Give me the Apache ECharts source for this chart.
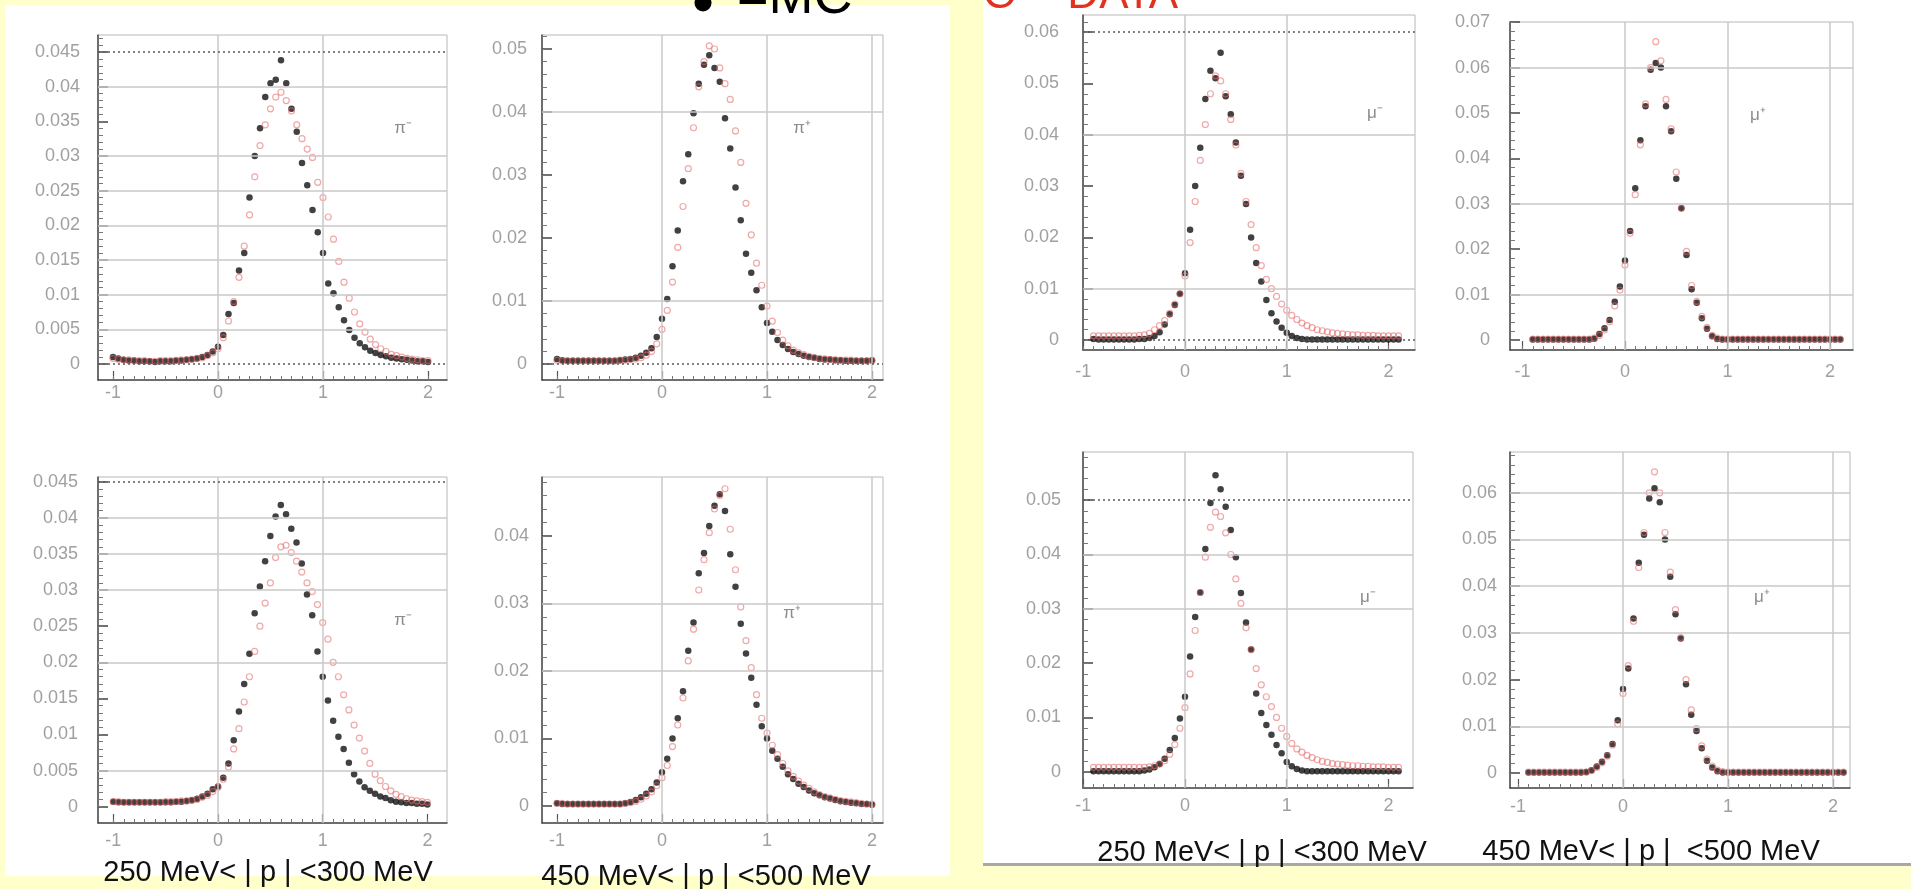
<!DOCTYPE html>
<html><head><meta charset="utf-8">
<script src="https://cdn.jsdelivr.net/npm/echarts@6/dist/echarts.min.js"></script>
<style>html,body{margin:0;padding:0;background:#ffffcc;}#c{width:1911px;height:889px;}</style>
</head><body><div id="c"></div>
<script>
// ---------- bin centres ----------
const xPi = [-1,-0.95,-0.9,-0.85,-0.8,-0.75,-0.7,-0.65,-0.6,-0.55,-0.5,-0.45,-0.4,-0.35,-0.3,-0.25,-0.2,-0.15,-0.1,-0.05,0,0.05,0.1,0.15,0.2,0.25,0.3,0.35,0.4,0.45,0.5,0.55,0.6,0.65,0.7,0.75,0.8,0.85,0.9,0.95,1,1.05,1.1,1.15,1.2,1.25,1.3,1.35,1.4,1.45,1.5,1.55,1.6,1.65,1.7,1.75,1.8,1.85,1.9,1.95,2];
const xMu = [-0.9,-0.85,-0.8,-0.75,-0.7,-0.65,-0.6,-0.55,-0.5,-0.45,-0.4,-0.35,-0.3,-0.25,-0.2,-0.15,-0.1,-0.05,0,0.05,0.1,0.15,0.2,0.25,0.3,0.35,0.4,0.45,0.5,0.55,0.6,0.65,0.7,0.75,0.8,0.85,0.9,0.95,1,1.05,1.1,1.15,1.2,1.25,1.3,1.35,1.4,1.45,1.5,1.55,1.6,1.65,1.7,1.75,1.8,1.85,1.9,1.95,2,2.05,2.1];

// ---------- tick labels ----------
const xTicks = [-1, 0, 1, 2];
const ticks045 = [0, 0.005, 0.01, 0.015, 0.02, 0.025, 0.03, 0.035, 0.04, 0.045];
const ticks04 = [0, 0.01, 0.02, 0.03, 0.04];
const ticks05 = [0, 0.01, 0.02, 0.03, 0.04, 0.05];
const ticks06 = [0, 0.01, 0.02, 0.03, 0.04, 0.05, 0.06];
const ticks07 = [0, 0.01, 0.02, 0.03, 0.04, 0.05, 0.06, 0.07];

// ---------- series values (MC = filled black, DATA = open red) ----------
// pi, 250<|p|<300, top
const mcA = [0.0010,0.0008,0.0006,0.0005,0.0005,0.0004,0.0004,0.0004,0.0003,0.0004,
0.0004,0.0004,0.0005,0.0005,0.0006,0.0007,0.0008,0.0010,0.0013,0.0018,
0.0025,0.0042,0.0072,0.0088,0.0135,0.0160,0.0240,0.0300,0.0340,0.0385,
0.0405,0.0410,0.0438,0.0405,0.0368,0.0335,0.0290,0.0258,0.0222,0.0190,
0.0160,0.0116,0.0102,0.0082,0.0063,0.0049,0.0038,0.0030,0.0024,0.0019,
0.0016,0.0013,0.0011,0.0009,0.0008,0.0007,0.0006,0.0005,0.0004,0.0004,0.0003];
const daA = [0.0008,0.0007,0.0006,0.0006,0.0005,0.0005,0.0005,0.0004,0.0004,0.0005,
0.0005,0.0005,0.0005,0.0006,0.0006,0.0007,0.0008,0.0009,0.0012,0.0016,
0.0022,0.0038,0.0062,0.0090,0.0125,0.0170,0.0215,0.0270,0.0315,0.0345,
0.0368,0.0385,0.0392,0.0380,0.0365,0.0345,0.0325,0.0310,0.0298,0.0262,
0.0240,0.0212,0.0180,0.0148,0.0118,0.0095,0.0075,0.0058,0.0046,0.0036,
0.0028,0.0022,0.0018,0.0014,0.0012,0.0010,0.0008,0.0007,0.0006,0.0005,0.0005];
// pi, 450<|p|<500, top
const mcB = [0.0008,0.0006,0.0005,0.0005,0.0005,0.0005,0.0005,0.0005,0.0005,0.0005,
0.0005,0.0005,0.0006,0.0007,0.0008,0.0010,0.0013,0.0018,0.0025,0.0043,
0.0072,0.0103,0.0155,0.0212,0.0290,0.0333,0.0398,0.0445,0.0475,0.0490,
0.0470,0.0448,0.0390,0.0342,0.0280,0.0228,0.0175,0.0145,0.0117,0.0090,
0.0065,0.0051,0.0038,0.0030,0.0024,0.0019,0.0016,0.0013,0.0011,0.0010,
0.0008,0.0007,0.0007,0.0006,0.0006,0.0005,0.0005,0.0005,0.0005,0.0005,0.0006];
const daB = [0.0006,0.0005,0.0005,0.0005,0.0005,0.0005,0.0005,0.0005,0.0005,0.0005,
0.0005,0.0005,0.0006,0.0006,0.0007,0.0008,0.0010,0.0014,0.0020,0.0032,
0.0055,0.0085,0.0130,0.0185,0.0250,0.0310,0.0375,0.0440,0.0480,0.0505,
0.0500,0.0470,0.0445,0.0420,0.0370,0.0320,0.0255,0.0205,0.0160,0.0125,
0.0092,0.0068,0.0050,0.0038,0.0029,0.0022,0.0018,0.0015,0.0012,0.0010,
0.0009,0.0008,0.0007,0.0007,0.0006,0.0006,0.0006,0.0005,0.0005,0.0005,0.0005];
// mu, 250<|p|<300, top
const mcC = [0.0002,0.0001,0.0001,0.0001,0.0001,0.0001,0.0001,0.0001,0.0001,0.0002,
0.0002,0.0004,0.0008,0.0015,0.0030,0.0050,0.0068,0.0090,0.0130,0.0215,
0.0300,0.0375,0.0470,0.0525,0.0510,0.0560,0.0475,0.0440,0.0385,0.0320,
0.0265,0.0200,0.0150,0.0114,0.0078,0.0052,0.0036,0.0024,0.0014,0.0008,
0.0004,0.0002,0.0001,0.0001,0.0001,0.0001,0.0001,0.0001,0.0001,0.0001,
0.0001,0.0001,0.0001,0.0001,0.0001,0.0001,0.0001,0.0001,0.0001,0.0001,0.0001];
const daC = [0.0008,0.0008,0.0008,0.0008,0.0008,0.0008,0.0008,0.0008,0.0008,0.0009,
0.0010,0.0013,0.0020,0.0028,0.0038,0.0052,0.0070,0.0090,0.0125,0.0190,
0.0270,0.0350,0.0420,0.0480,0.0515,0.0505,0.0480,0.0430,0.0380,0.0325,
0.0270,0.0225,0.0180,0.0145,0.0118,0.0100,0.0085,0.0070,0.0058,0.0048,
0.0040,0.0033,0.0028,0.0024,0.0020,0.0018,0.0016,0.0014,0.0013,0.0012,
0.0011,0.0010,0.0010,0.0009,0.0009,0.0009,0.0008,0.0008,0.0008,0.0008,0.0008];
// mu, 450<|p|<500, top
const mcD = [0.0001,0.0001,0.0001,0.0001,0.0001,0.0001,0.0001,0.0001,0.0001,0.0001,
0.0001,0.0001,0.0003,0.0013,0.0026,0.0044,0.0084,0.0118,0.0175,0.0240,
0.0334,0.0440,0.0515,0.0595,0.0610,0.0600,0.0515,0.0460,0.0355,0.0290,
0.0187,0.0112,0.0082,0.0048,0.0025,0.0008,0.0002,0.0001,0.0001,0.0001,
0.0001,0.0001,0.0001,0.0001,0.0001,0.0001,0.0001,0.0001,0.0001,0.0001,
0.0001,0.0001,0.0001,0.0001,0.0001,0.0001,0.0001,0.0001,0.0001,0.0001,0.0001];
const daD = [0.0002,0.0002,0.0002,0.0002,0.0002,0.0002,0.0002,0.0002,0.0002,0.0002,
0.0002,0.0002,0.0004,0.0010,0.0022,0.0040,0.0075,0.0110,0.0165,0.0235,
0.0320,0.0430,0.0520,0.0600,0.0657,0.0615,0.0530,0.0465,0.0370,0.0290,
0.0195,0.0120,0.0085,0.0052,0.0028,0.0010,0.0004,0.0002,0.0002,0.0002,
0.0002,0.0002,0.0002,0.0002,0.0002,0.0002,0.0002,0.0002,0.0002,0.0002,
0.0002,0.0002,0.0002,0.0002,0.0002,0.0002,0.0002,0.0002,0.0002,0.0002,0.0002];
// pi, 250<|p|<300, bottom
const mcE = [0.0007,0.0006,0.0006,0.0006,0.0006,0.0006,0.0006,0.0006,0.0006,0.0006,
0.0006,0.0006,0.0007,0.0007,0.0008,0.0009,0.0011,0.0014,0.0018,0.0024,
0.0028,0.0040,0.0060,0.0092,0.0132,0.0170,0.0212,0.0268,0.0305,0.0340,
0.0375,0.0402,0.0418,0.0405,0.0385,0.0366,0.0337,0.0294,0.0265,0.0215,
0.0180,0.0147,0.0119,0.0097,0.0080,0.0061,0.0045,0.0035,0.0027,0.0022,
0.0018,0.0014,0.0012,0.0009,0.0007,0.0006,0.0005,0.0005,0.0004,0.0004,0.0003];
const daE = [0.0007,0.0007,0.0006,0.0006,0.0006,0.0006,0.0006,0.0006,0.0006,0.0006,
0.0007,0.0007,0.0007,0.0008,0.0008,0.0009,0.0010,0.0013,0.0016,0.0021,
0.0027,0.0038,0.0055,0.0080,0.0108,0.0145,0.0180,0.0215,0.0250,0.0282,
0.0310,0.0345,0.0360,0.0362,0.0352,0.0340,0.0325,0.0310,0.0298,0.0280,
0.0255,0.0232,0.0200,0.0180,0.0155,0.0134,0.0113,0.0095,0.0077,0.0060,
0.0045,0.0036,0.0028,0.0022,0.0017,0.0014,0.0011,0.0009,0.0008,0.0007,0.0006];
// pi, 450<|p|<500, bottom
const mcF = [0.0004,0.0003,0.0003,0.0003,0.0003,0.0003,0.0003,0.0003,0.0003,0.0003,
0.0003,0.0003,0.0003,0.0004,0.0006,0.0009,0.0013,0.0018,0.0025,0.0035,
0.0050,0.0070,0.0100,0.0130,0.0170,0.0230,0.0272,0.0345,0.0375,0.0415,
0.0445,0.0462,0.0437,0.0373,0.0325,0.0270,0.0226,0.0190,0.0150,0.0118,
0.0100,0.0082,0.0070,0.0058,0.0047,0.0040,0.0033,0.0028,0.0023,0.0019,
0.0016,0.0013,0.0011,0.0009,0.0007,0.0006,0.0005,0.0004,0.0003,0.0003,0.0002];
const daF = [0.0004,0.0004,0.0003,0.0003,0.0003,0.0003,0.0003,0.0003,0.0003,0.0003,
0.0003,0.0003,0.0003,0.0004,0.0005,0.0007,0.0010,0.0015,0.0021,0.0030,
0.0042,0.0060,0.0088,0.0120,0.0160,0.0215,0.0262,0.0320,0.0365,0.0405,
0.0440,0.0460,0.0470,0.0410,0.0350,0.0295,0.0245,0.0205,0.0165,0.0130,
0.0108,0.0090,0.0076,0.0063,0.0052,0.0044,0.0037,0.0031,0.0026,0.0021,
0.0017,0.0014,0.0012,0.0010,0.0008,0.0007,0.0006,0.0005,0.0004,0.0003,0.0003];
// mu, 250<|p|<300, bottom
const mcG = [0.0001,0.0001,0.0001,0.0001,0.0001,0.0001,0.0001,0.0001,0.0001,0.0001,
0.0002,0.0004,0.0008,0.0014,0.0024,0.0040,0.0062,0.0098,0.0138,0.0212,
0.0285,0.0330,0.0410,0.0495,0.0546,0.0520,0.0488,0.0445,0.0395,0.0329,
0.0275,0.0225,0.0144,0.0108,0.0086,0.0068,0.0049,0.0034,0.0018,0.0010,
0.0005,0.0002,0.0001,0.0001,0.0001,0.0001,0.0001,0.0001,0.0001,0.0001,
0.0001,0.0001,0.0001,0.0001,0.0001,0.0001,0.0001,0.0001,0.0001,0.0001,0.0001];
const daG = [0.0008,0.0008,0.0008,0.0008,0.0008,0.0008,0.0008,0.0008,0.0008,0.0008,
0.0008,0.0009,0.0011,0.0014,0.0020,0.0032,0.0050,0.0080,0.0118,0.0180,
0.0260,0.0330,0.0395,0.0450,0.0478,0.0470,0.0440,0.0400,0.0355,0.0310,
0.0265,0.0225,0.0190,0.0160,0.0138,0.0120,0.0100,0.0080,0.0065,0.0052,
0.0042,0.0036,0.0030,0.0026,0.0022,0.0019,0.0017,0.0015,0.0014,0.0013,
0.0012,0.0011,0.0011,0.0010,0.0010,0.0009,0.0009,0.0009,0.0008,0.0008,0.0008];
// mu, 450<|p|<500, bottom
const mcH = [0.0001,0.0001,0.0001,0.0001,0.0001,0.0001,0.0001,0.0001,0.0001,0.0001,
0.0001,0.0002,0.0006,0.0014,0.0024,0.0038,0.0062,0.0113,0.0180,0.0224,
0.0331,0.0450,0.0510,0.0588,0.0610,0.0580,0.0500,0.0420,0.0340,0.0288,
0.0190,0.0125,0.0090,0.0053,0.0026,0.0012,0.0004,0.0001,0.0001,0.0001,
0.0001,0.0001,0.0001,0.0001,0.0001,0.0001,0.0001,0.0001,0.0001,0.0001,
0.0001,0.0001,0.0001,0.0001,0.0001,0.0001,0.0001,0.0001,0.0001,0.0001,0.0001];
const daH = [0.0002,0.0002,0.0002,0.0002,0.0002,0.0002,0.0002,0.0002,0.0002,0.0002,
0.0002,0.0002,0.0005,0.0012,0.0022,0.0036,0.0060,0.0105,0.0170,0.0230,
0.0325,0.0440,0.0515,0.0600,0.0645,0.0600,0.0515,0.0430,0.0350,0.0290,
0.0200,0.0135,0.0095,0.0058,0.0030,0.0015,0.0006,0.0003,0.0002,0.0002,
0.0002,0.0002,0.0002,0.0002,0.0002,0.0002,0.0002,0.0002,0.0002,0.0002,
0.0002,0.0002,0.0002,0.0002,0.0002,0.0002,0.0002,0.0002,0.0002,0.0002,0.0002];

// ---------- panel layout (pixels) ----------
// g: frame [left, top, right, bottom]; x0/xu: pixel of x=0 and px per unit; y0/yu: pixel of y=0 and px per unit
const panels = [
 {x:xPi, mc:mcA, da:daA, yt:ticks045, step:0.005, name:'π⁻', lab:[403,128], g:[98,35,447,380], x0:218, xu:105, y0:364, yu:6933, ylm:18, xlm:4, gy:[0.04,0.03,0.025,0.02,0.015,0.01,0.005], dy:[0.045,0], gx:[0,1]},
 {x:xPi, mc:mcB, da:daB, yt:ticks05, step:0.01, name:'π⁺', lab:[802,128], g:[542,35,883,380], x0:662, xu:105, y0:364, yu:6300, ylm:15, xlm:4, gy:[0.04,0.01], dy:[0], gx:[0,1,2]},
 {x:xMu, mc:mcC, da:daC, yt:ticks06, step:0.01, name:'μ⁻', lab:[1375,113], g:[1083,15,1415,350], x0:1185, xu:101.7, y0:340, yu:5130, ylm:24, xlm:13, gy:[0.04,0.01], dy:[0.06,0], gx:[0,1]},
 {x:xMu, mc:mcD, da:daD, yt:ticks07, step:0.01, name:'μ⁺', lab:[1758,115], g:[1510,22,1853,350], x0:1625, xu:102.5, y0:340, yu:4540, ylm:20, xlm:13, gy:[0.06,0.03,0.01], dy:[], gx:[0,1,2]},
 {x:xPi, mc:mcE, da:daE, yt:ticks045, step:0.005, name:'π⁻', lab:[403,620], g:[98,477,447,823], x0:218, xu:104.7, y0:806.7, yu:7220, ylm:20, xlm:9, gy:[0.04,0.035,0.03,0.02,0.005], dy:[0.045], gx:[0,1]},
 {x:xPi, mc:mcF, da:daF, yt:ticks04, step:0.01, name:'π⁺', lab:[792,613], g:[542,477,883,823], x0:662, xu:105, y0:806, yu:6750, ylm:13, xlm:9, gy:[0.03,0.02], dy:[], gx:[0,1,2]},
 {x:xMu, mc:mcG, da:daG, yt:ticks05, step:0.01, name:'μ⁻', lab:[1368,597], g:[1083,452,1413,788], x0:1185, xu:101.7, y0:771.7, yu:5430, ylm:22, xlm:9, gy:[0.04,0.03], dy:[0.05], gx:[0,1]},
 {x:xMu, mc:mcH, da:daH, yt:ticks06, step:0.01, name:'μ⁺', lab:[1762,597], g:[1510,452,1850,788], x0:1623, xu:105, y0:773, yu:4670, ylm:13, xlm:10, gy:[0.06,0.05,0.04,0.03,0.01], dy:[], gx:[0,1,2]}
];

const labelFont = 'Liberation Sans';
const grids = [], xAxes = [], yAxes = [], series = [];
panels.forEach((p, k) => {
  const xmin = (p.g[0] - p.x0) / p.xu, xmax = (p.g[2] - p.x0) / p.xu;
  const ymin = -(p.g[3] - p.y0) / p.yu, ymax = (p.y0 - p.g[1]) / p.yu;
  grids.push({left:p.g[0], top:p.g[1], width:p.g[2]-p.g[0], height:p.g[3]-p.g[1], show:true, borderColor:'#b8b8b8', borderWidth:1});
  const minorX = []; for (let v = -1; v <= 2.0001; v += 0.1) minorX.push(+v.toFixed(2));
  const minorY = []; for (let v = 0; v <= ymax; v += p.step/5) minorY.push(+v.toFixed(5));
  xAxes.push({type:'value', gridIndex:k, min:xmin, max:xmax, position:'bottom',
    axisLine:{show:true, onZero:false, lineStyle:{color:'#4a4a4a', width:1.5}},
    axisTick:{show:true, inside:true, length:9, customValues:xTicks, lineStyle:{color:'#555', width:1.2}},
    axisLabel:{customValues:xTicks, margin:p.xlm, color:'#a0a0a0', fontSize:18, fontFamily:labelFont, formatter:v=>String(v)},
    splitLine:{show:false}});
  xAxes.push({type:'value', gridIndex:k, min:xmin, max:xmax, position:'bottom',
    axisLine:{show:false, onZero:false}, axisTick:{show:true, inside:true, length:4, customValues:minorX, lineStyle:{color:'#777'}},
    axisLabel:{show:false}, splitLine:{show:false}});
  yAxes.push({type:'value', gridIndex:k, min:ymin, max:ymax, position:'left',
    axisLine:{show:true, onZero:false, lineStyle:{color:'#4a4a4a', width:1.5}},
    axisTick:{show:true, inside:true, length:10, customValues:p.yt, lineStyle:{color:'#444', width:1.5}},
    axisLabel:{customValues:p.yt, margin:p.ylm, color:'#a0a0a0', fontSize:18, fontFamily:labelFont, formatter:v=>String(Math.round(v*10000)/10000)},
    splitLine:{show:false}});
  yAxes.push({type:'value', gridIndex:k, min:ymin, max:ymax, position:'left',
    axisLine:{show:false, onZero:false}, axisTick:{show:true, inside:true, length:5, customValues:minorY, lineStyle:{color:'#777'}},
    axisLabel:{show:false}, splitLine:{show:false}});
  const ml = [];
  p.gy.forEach(v => ml.push({yAxis:v, lineStyle:{color:'#c9c9c9', width:1.5, type:'solid'}}));
  p.gx.forEach(v => ml.push({xAxis:v, lineStyle:{color:'#c9c9c9', width:1.5, type:'solid'}}));
  p.dy.forEach(v => ml.push({yAxis:v, lineStyle:{color:'#5a5a5a', width:1.5, type:[2,3]}}));
  series.push({type:'line', xAxisIndex:2*k, yAxisIndex:2*k, data:[], z:1, silent:true,
    markLine:{silent:true, precision:6, symbol:['none','none'], label:{show:false}, animation:false, data:ml}});
  series.push({type:'scatter', name:'MC', xAxisIndex:2*k, yAxisIndex:2*k, z:3, clip:false, symbol:'circle', symbolSize:6.5,
    itemStyle:{color:'#111'}, data:p.x.map((xv,i)=>[xv, p.mc[i]])});
  series.push({type:'scatter', name:'DATA', xAxisIndex:2*k, yAxisIndex:2*k, z:4, clip:false, symbol:'circle', symbolSize:6,
    itemStyle:{color:'rgba(255,255,255,0)', borderColor:'rgba(228,100,100,0.7)', borderWidth:1.2}, data:p.x.map((xv,i)=>[xv, p.da[i]])});
});

const graphic = [
  {type:'rect', z:-10, shape:{x:5, y:5, width:945, height:871}, style:{fill:'#ffffff'}},
  {type:'rect', z:-10, shape:{x:983, y:0, width:928, height:863}, style:{fill:'#ffffff'}},
  {type:'rect', z:-9, shape:{x:983, y:863, width:928, height:3}, style:{fill:'#a8a8a8'}},
  {type:'circle', z:10, shape:{cx:703, cy:3, r:8.5}, style:{fill:'#000'}},
  {type:'text', z:10, style:{text:'=MC', x:737, y:-2, font:'54px Liberation Sans', fill:'#000', verticalAlign:'middle'}},
  {type:'text', z:10, style:{text:'O = DATA', x:983, y:-4, font:'44px Liberation Sans', fill:'#e2321e', verticalAlign:'middle'}},
  {type:'text', z:10, style:{text:'250 MeV< | p | <300 MeV', x:268, y:873, font:'29px Liberation Sans', fill:'#111', align:'center', verticalAlign:'middle'}},
  {type:'text', z:10, style:{text:'450 MeV< | p | <500 MeV', x:706, y:877, font:'29px Liberation Sans', fill:'#111', align:'center', verticalAlign:'middle'}},
  {type:'text', z:10, style:{text:'250 MeV< | p | <300 MeV', x:1262, y:853, font:'29px Liberation Sans', fill:'#111', align:'center', verticalAlign:'middle'}},
  {type:'text', z:10, style:{text:'450 MeV< | p |  <500 MeV', x:1651, y:852, font:'29px Liberation Sans', fill:'#111', align:'center', verticalAlign:'middle'}}
];
panels.forEach(p => graphic.push({type:'text', z:10, style:{text:p.name, x:p.lab[0], y:p.lab[1], font:'17px Liberation Sans', fill:'#8c8c8c', align:'center', verticalAlign:'middle'}}));

const chart = echarts.init(document.getElementById('c'), null, {renderer:'canvas', width:1911, height:889});
chart.setOption({
  backgroundColor:'#ffffcc',
  animation:false,
  grid:grids, xAxis:xAxes, yAxis:yAxes, series:series, graphic:graphic
});
</script></body></html>
